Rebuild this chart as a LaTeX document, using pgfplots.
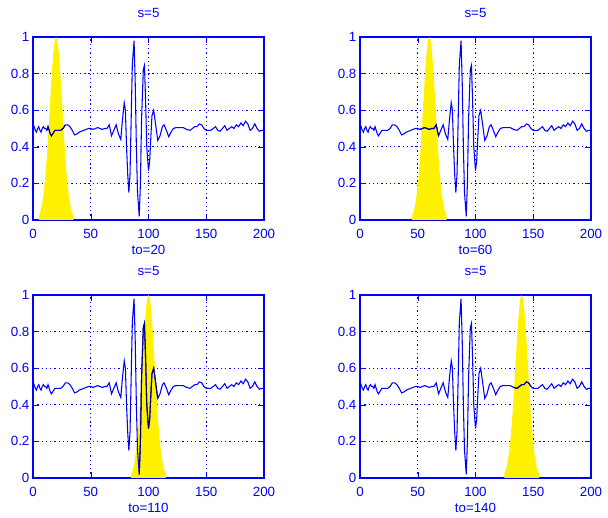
\documentclass[border=0pt]{standalone}
\usepackage{fontspec}
\setmainfont{Liberation Sans}
\usepackage{pgfplots}
\usepackage{pgfplotstable}
\pgfplotsset{compat=1.18}

% signal
\pgfplotstableread{
t v
0 0.50
1 0.51
2 0.49
3 0.48
4 0.50
5 0.51
6 0.49
7 0.48
8 0.50
9 0.51
10 0.50
11 0.50
12 0.49
13 0.51
14 0.49
15 0.47
16 0.46
17 0.47
18 0.48
19 0.49
20 0.49
22 0.49
24 0.49
26 0.50
28 0.52
30 0.52
32 0.51
34 0.49
36 0.465
38 0.47
40 0.48
42 0.485
44 0.49
46 0.495
48 0.50
50 0.50
52 0.495
54 0.50
56 0.505
58 0.50
60 0.495
62 0.50
64 0.50
66 0.52
68 0.46
70 0.49
72 0.52
74 0.47
76 0.44
77.5 0.55
79 0.64
80 0.60
81 0.40
82 0.25
83 0.15
84 0.25
85 0.55
86 0.85
87.5 0.98
88.5 0.75
89.5 0.40
90.5 0.15
92 0.02
93 0.20
94 0.55
95.5 0.82
96.5 0.845
97.5 0.65
98.5 0.40
100 0.27
101 0.32
102 0.45
103 0.57
104.5 0.60
106 0.53
108 0.435
110 0.46
112 0.51
113.5 0.52
115.5 0.49
117.5 0.455
119.5 0.48
121.5 0.50
124 0.505
127 0.505
130 0.505
133 0.495
136 0.49
138 0.50
140 0.51
142 0.51
144 0.525
146 0.52
148 0.50
150 0.49
152 0.49
154 0.49
156 0.50
158 0.51
160 0.49
162 0.485
164 0.50
166 0.515
168 0.49
170 0.50
172 0.51
174 0.50
176 0.52
178 0.51
180 0.53
182 0.515
184 0.54
186 0.525
188 0.49
190 0.50
192 0.525
194 0.50
196 0.485
198 0.49
200 0.49
}\sig

% window shape, offset from its centre
\pgfplotstableread{
d g
-15 0.024
-14 0.039
-13 0.061
-12 0.093
-11 0.135
-10 0.191
-9 0.262
-8 0.347
-7 0.445
-6 0.552
-5 0.661
-4 0.768
-3 0.862
-2 0.936
-1 0.984
0 1.000
1 0.984
2 0.936
3 0.862
4 0.768
5 0.661
6 0.552
7 0.445
8 0.347
9 0.262
10 0.191
11 0.135
12 0.093
13 0.061
14 0.039
15 0.024
}\win

\newcommand{\lab}{\fontsize{10}{12}\selectfont}
\pgfplotsset{
  every axis grid/.style={color=blue, line width=0.7pt, dash pattern=on 1pt off 2.2pt},
  panel/.style={
    scale only axis, width=173.25pt, height=137.25pt,
    anchor=south west,
    xmin=0, xmax=200, ymin=0, ymax=1,
    xtick={0,50,100,150,200},
    ytick={0,0.2,0.4,0.6,0.8,1},
    xmajorgrids, ymajorgrids,
    grid style={color=blue},
    major grid style={color=blue, line width=0.7pt, dash pattern=on 1pt off 2.2pt},
    axis line style={blue, line width=0.9pt},
    tick style={blue},
    tick align=inside,
    /pgf/number format/assume math mode=true,
    ticklabel style={font=\lab, text=blue},
    xticklabel style={anchor=base, yshift=-13.7pt},
    yticklabel style={anchor=east, inner xsep=0pt, xshift=-2.5pt},
    title={s=5},
    title style={at={(0.5,1)}, anchor=base, yshift=8.8pt, font=\lab, text=blue},
    xlabel style={at={(axis description cs:0.5,0)}, anchor=base, yshift=-26.25pt, font=\lab, text=blue},
  },
  sigline/.style={blue, line width=0.8pt},
  darkline/.style={blue!55!black, line width=0.8pt},
  winfill/.style={fill=yellow, draw=none},
}

\begin{document}
\begin{tikzpicture}
% top left
\begin{axis}[panel, at={(24.75pt,221.25pt)}, xlabel={to=20}]
\addplot[winfill] table[x expr=\thisrow{d}+20, y=g] {\win} \closedcycle;
\addplot[sigline] table[x=t, y=v] {\sig};
\addplot[darkline, restrict x to domain=12:28] table[x=t, y=v] {\sig};
\end{axis}
% top right
\begin{axis}[panel, at={(270pt,221.25pt)}, xlabel={to=60}]
\addplot[winfill] table[x expr=\thisrow{d}+60, y=g] {\win} \closedcycle;
\addplot[sigline] table[x=t, y=v] {\sig};
\addplot[darkline, restrict x to domain=52:68] table[x=t, y=v] {\sig};
\end{axis}
% bottom left
\begin{axis}[panel, at={(24.75pt,27.75pt)}, xlabel={to=110}]
\addplot[winfill] table[x expr=\thisrow{d}+100, y=g] {\win} \closedcycle;
\addplot[sigline] table[x=t, y=v] {\sig};
\addplot[darkline, restrict x to domain=92:108] table[x=t, y=v] {\sig};
\end{axis}
% bottom right
\begin{axis}[panel, at={(270pt,27.75pt)}, xlabel={to=140}]
\addplot[winfill] table[x expr=\thisrow{d}+140, y=g] {\win} \closedcycle;
\addplot[sigline] table[x=t, y=v] {\sig};
\addplot[darkline, restrict x to domain=132:148] table[x=t, y=v] {\sig};
\end{axis}
\path[use as bounding box] (0,0) rectangle (456pt,386.25pt);
\end{tikzpicture}
\end{document}
